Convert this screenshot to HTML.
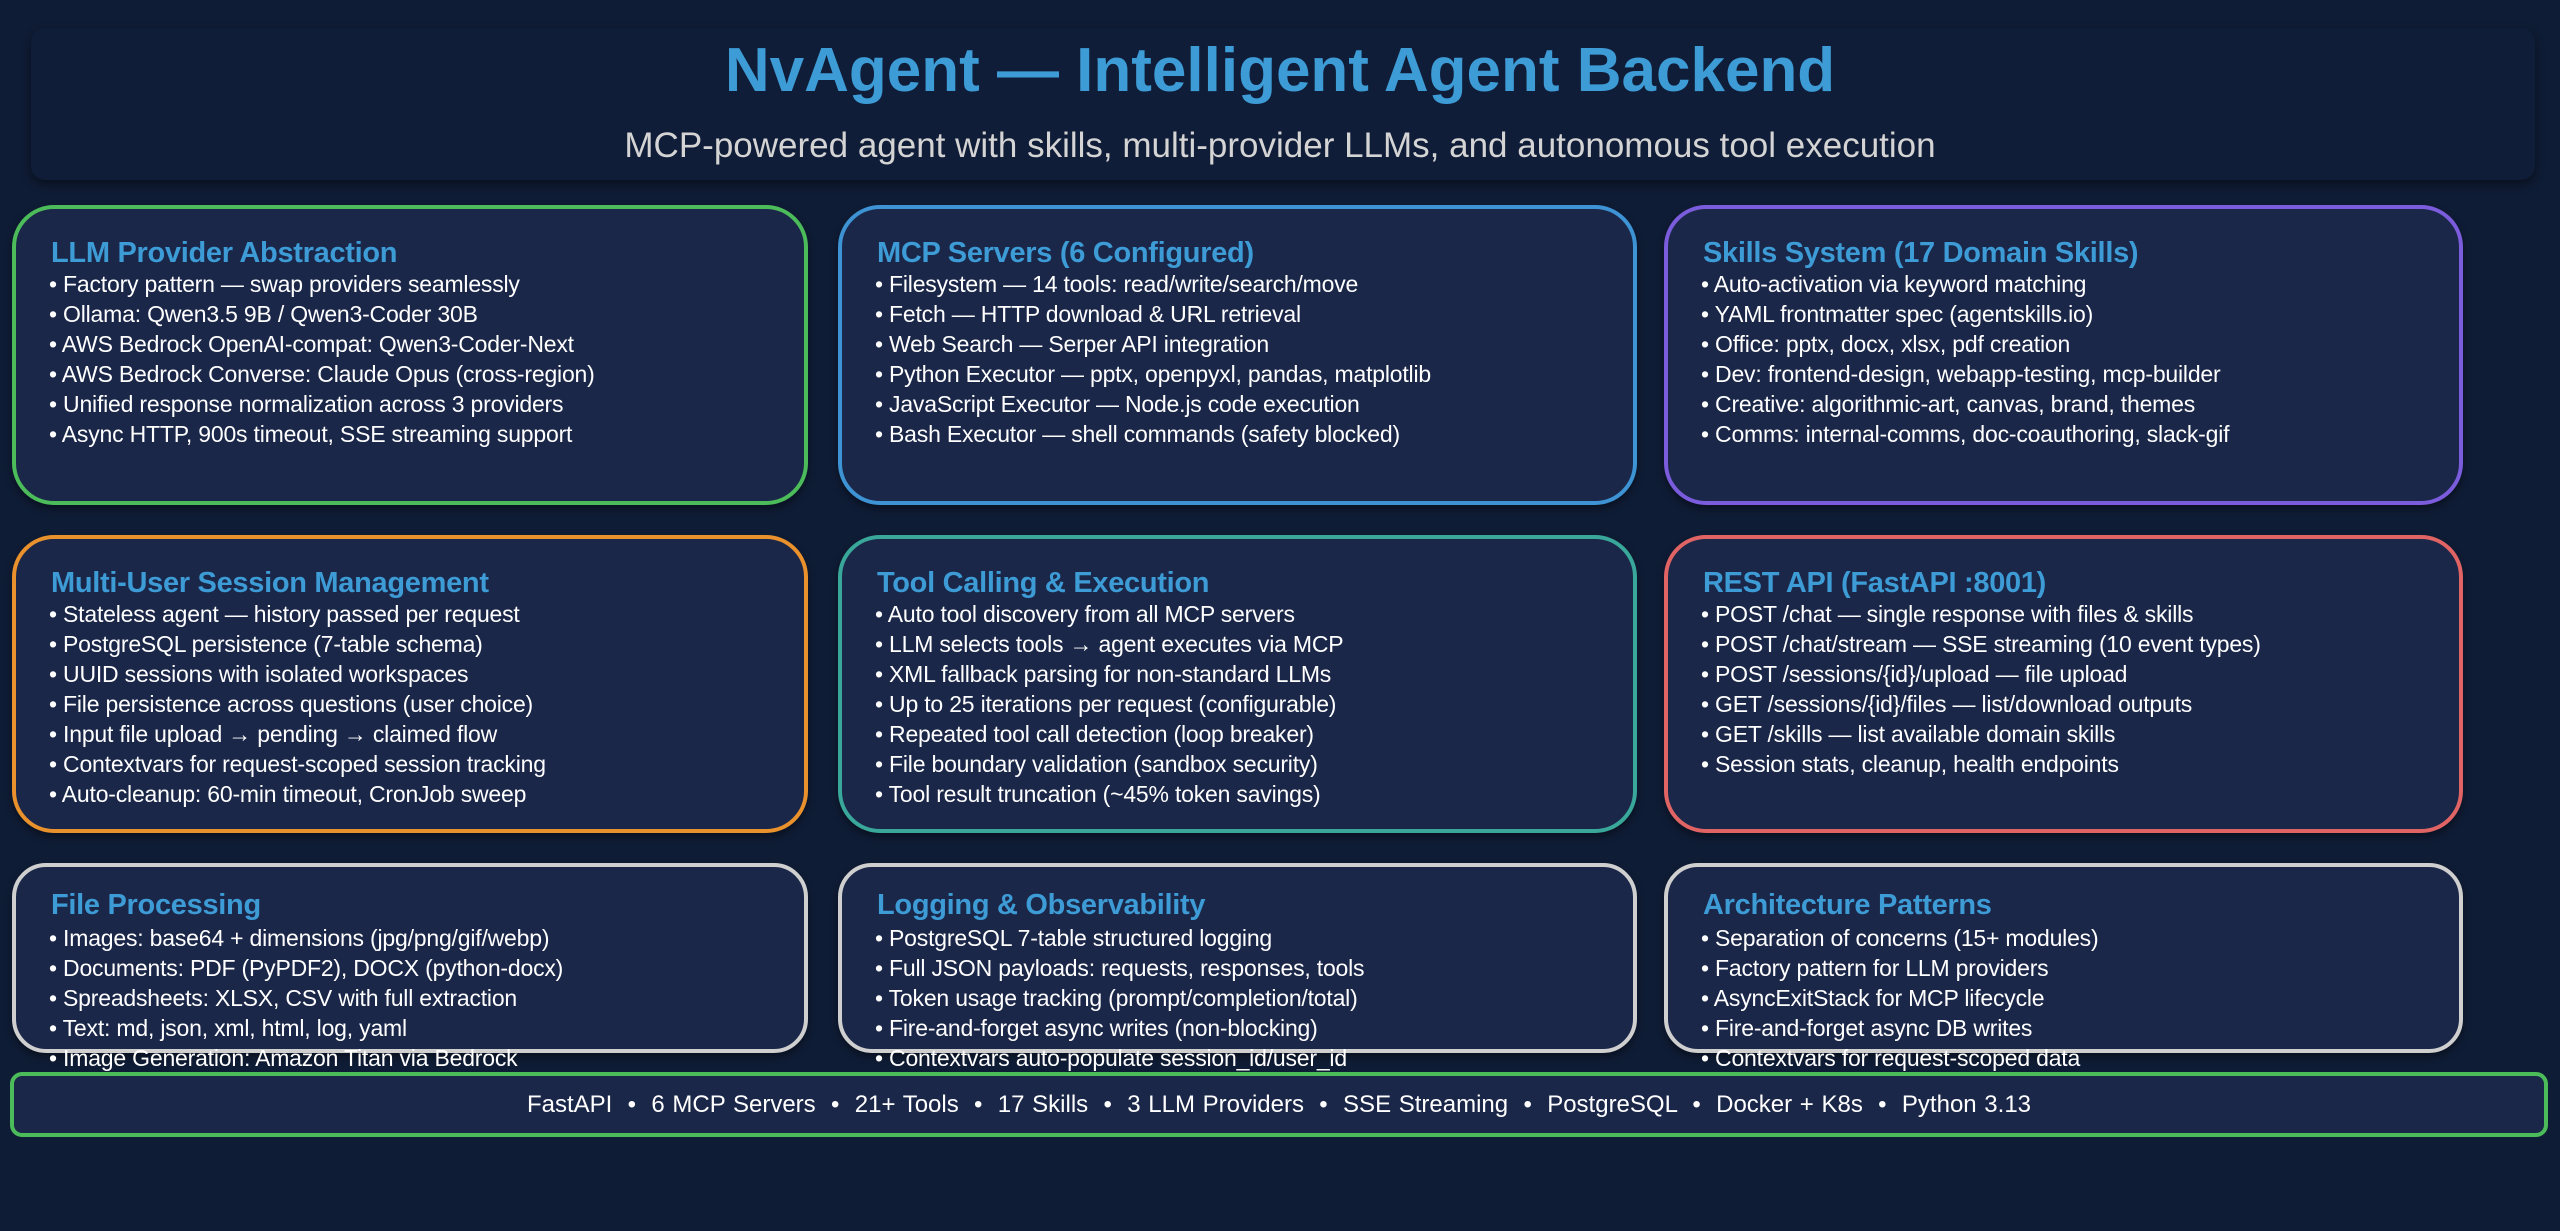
<!DOCTYPE html>
<html><head><meta charset="utf-8"><style>
*{margin:0;padding:0;box-sizing:border-box}
body{width:2560px;height:1231px;background:#0f1c35;font-family:"Liberation Sans",Arial,sans-serif;position:relative;overflow:hidden}
.hdr{position:absolute;left:31px;top:28px;width:2504px;height:152px;background:#101d38;border-radius:14px;box-shadow:0 4px 10px rgba(0,0,0,.45)}
.title{position:absolute;left:0;width:2560px;top:36px;text-align:center;color:#3d9bd6;font-weight:bold;font-size:62px;line-height:70px}
.sub{position:absolute;left:0;width:2560px;top:124px;text-align:center;color:#d4d4d4;font-size:35px;line-height:44px}
.box{position:absolute;background:#1b2749;border:4px solid;border-radius:42px;box-shadow:0 4px 8px rgba(0,0,0,.4)}
.box h3{position:absolute;left:35px;color:#3d9bd6;font-size:29px;font-weight:bold;line-height:34px;white-space:nowrap;letter-spacing:-0.3px}
.box ul{position:absolute;left:33px;list-style:none;color:#fff;font-size:23px;line-height:30px;white-space:nowrap;letter-spacing:-0.2px}
.r1 h3,.r2 h3{top:27px}.r1 ul,.r2 ul{top:60px}
.r3 h3{top:21px}.r3 ul{top:56px}
.r3{border-radius:34px}
.foot{position:absolute;left:10px;top:1072px;width:2538px;height:65px;background:#1b2749;border:4px solid #4cbb5a;border-radius:12px;color:#fff;font-size:24px;text-align:center;line-height:57px;word-spacing:1px}
</style></head><body>
<div class="hdr"></div>
<div class="title">NvAgent — Intelligent Agent Backend</div>
<div class="sub">MCP-powered agent with skills, multi-provider LLMs, and autonomous tool execution</div>

<div class="box r1" style="left:12px;top:205px;width:796px;height:300px;border-color:#4cbb5a">
<h3>LLM Provider Abstraction</h3>
<ul><li>• Factory pattern — swap providers seamlessly</li><li>• Ollama: Qwen3.5 9B / Qwen3-Coder 30B</li><li>• AWS Bedrock OpenAI-compat: Qwen3-Coder-Next</li><li>• AWS Bedrock Converse: Claude Opus (cross-region)</li><li>• Unified response normalization across 3 providers</li><li>• Async HTTP, 900s timeout, SSE streaming support</li></ul></div>

<div class="box r1" style="left:838px;top:205px;width:799px;height:300px;border-color:#3d93d3">
<h3>MCP Servers (6 Configured)</h3>
<ul><li>• Filesystem — 14 tools: read/write/search/move</li><li>• Fetch — HTTP download &amp; URL retrieval</li><li>• Web Search — Serper API integration</li><li>• Python Executor — pptx, openpyxl, pandas, matplotlib</li><li>• JavaScript Executor — Node.js code execution</li><li>• Bash Executor — shell commands (safety blocked)</li></ul></div>

<div class="box r1" style="left:1664px;top:205px;width:799px;height:300px;border-color:#7b5cdc">
<h3>Skills System (17 Domain Skills)</h3>
<ul><li>• Auto-activation via keyword matching</li><li>• YAML frontmatter spec (agentskills.io)</li><li>• Office: pptx, docx, xlsx, pdf creation</li><li>• Dev: frontend-design, webapp-testing, mcp-builder</li><li>• Creative: algorithmic-art, canvas, brand, themes</li><li>• Comms: internal-comms, doc-coauthoring, slack-gif</li></ul></div>

<div class="box r2" style="left:12px;top:535px;width:796px;height:298px;border-color:#e8912d">
<h3>Multi-User Session Management</h3>
<ul><li>• Stateless agent — history passed per request</li><li>• PostgreSQL persistence (7-table schema)</li><li>• UUID sessions with isolated workspaces</li><li>• File persistence across questions (user choice)</li><li>• Input file upload → pending → claimed flow</li><li>• Contextvars for request-scoped session tracking</li><li>• Auto-cleanup: 60-min timeout, CronJob sweep</li></ul></div>

<div class="box r2" style="left:838px;top:535px;width:799px;height:298px;border-color:#3aa79b">
<h3>Tool Calling &amp; Execution</h3>
<ul><li>• Auto tool discovery from all MCP servers</li><li>• LLM selects tools → agent executes via MCP</li><li>• XML fallback parsing for non-standard LLMs</li><li>• Up to 25 iterations per request (configurable)</li><li>• Repeated tool call detection (loop breaker)</li><li>• File boundary validation (sandbox security)</li><li>• Tool result truncation (~45% token savings)</li></ul></div>

<div class="box r2" style="left:1664px;top:535px;width:799px;height:298px;border-color:#e06464">
<h3>REST API (FastAPI :8001)</h3>
<ul><li>• POST /chat — single response with files &amp; skills</li><li>• POST /chat/stream — SSE streaming (10 event types)</li><li>• POST /sessions/{id}/upload — file upload</li><li>• GET /sessions/{id}/files — list/download outputs</li><li>• GET /skills — list available domain skills</li><li>• Session stats, cleanup, health endpoints</li></ul></div>

<div class="box r3" style="left:12px;top:863px;width:796px;height:190px;border-color:#cfcfcf">
<h3>File Processing</h3>
<ul><li>• Images: base64 + dimensions (jpg/png/gif/webp)</li><li>• Documents: PDF (PyPDF2), DOCX (python-docx)</li><li>• Spreadsheets: XLSX, CSV with full extraction</li><li>• Text: md, json, xml, html, log, yaml</li><li>• Image Generation: Amazon Titan via Bedrock</li></ul></div>

<div class="box r3" style="left:838px;top:863px;width:799px;height:190px;border-color:#cfcfcf">
<h3>Logging &amp; Observability</h3>
<ul><li>• PostgreSQL 7-table structured logging</li><li>• Full JSON payloads: requests, responses, tools</li><li>• Token usage tracking (prompt/completion/total)</li><li>• Fire-and-forget async writes (non-blocking)</li><li>• Contextvars auto-populate session_id/user_id</li></ul></div>

<div class="box r3" style="left:1664px;top:863px;width:799px;height:190px;border-color:#cfcfcf">
<h3>Architecture Patterns</h3>
<ul><li>• Separation of concerns (15+ modules)</li><li>• Factory pattern for LLM providers</li><li>• AsyncExitStack for MCP lifecycle</li><li>• Fire-and-forget async DB writes</li><li>• Contextvars for request-scoped data</li></ul></div>

<div class="foot">FastAPI &nbsp;•&nbsp; 6 MCP Servers &nbsp;•&nbsp; 21+ Tools &nbsp;•&nbsp; 17 Skills &nbsp;•&nbsp; 3 LLM Providers &nbsp;•&nbsp; SSE Streaming &nbsp;•&nbsp; PostgreSQL &nbsp;•&nbsp; Docker + K8s &nbsp;•&nbsp; Python 3.13</div>
</body></html>
